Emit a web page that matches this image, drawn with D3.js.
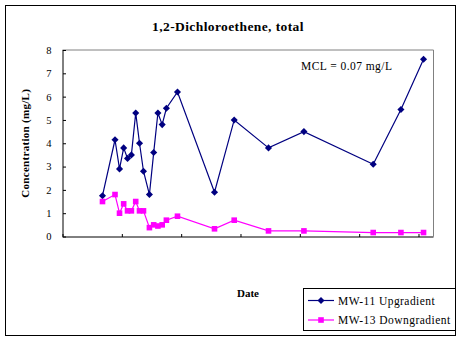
<!DOCTYPE html>
<html><head><meta charset="utf-8">
<script src="https://cdn.jsdelivr.net/npm/d3@7"></script>
<style>body{margin:0;background:#fff}svg{display:block}</style>
</head><body>
<svg id="c" width="462" height="341"></svg>
<script>
// Sample times, in years from the start of the date axis
const sampleYears = [0.674,0.885,0.961,1.031,1.096,1.161,1.234,1.298,1.365,1.465,1.537,1.608,1.680,1.751,1.938,2.562,2.894,3.472,4.069,5.237,5.704,6.085];
const mw11 = [1.75,4.15,2.9,3.8,3.35,3.5,5.3,4.0,2.8,1.8,3.6,5.3,4.8,5.5,6.2,1.9,5.0,3.8,4.5,3.1,5.45,7.6];
const mw13 = [1.5,1.8,1.0,1.4,1.1,1.1,1.5,1.1,1.1,0.38,0.5,0.45,0.5,0.7,0.87,0.33,0.7,0.24,0.24,0.17,0.17,0.17];
const yTicks = [0,1,2,3,4,5,6,7,8];
const xTicks = [0,1,2,3,4,5,6];
const seriesNames = ["MW-11 Upgradient","MW-13 Downgradient"];
const seriesColors = ["#000080","#FF00FF"];
const title = "1,2-Dichloroethene, total";
const yTitle = "Concentration (mg/L)";
const xTitle = "Date";
const note = "MCL = 0.07 mg/L";

const svg = d3.select("#c");
const serif = "'Liberation Serif','Times New Roman',serif";
const L = 62.5, R = 433.5, T = 50, B = 236.5;
const x = d3.scaleLinear().domain([0,6.253]).range([L,R]);
const y = d3.scaleLinear().domain([0,8]).range([B,T]);

// outer frame
svg.append("rect").attr("x",5.5).attr("y",5.5).attr("width",450).attr("height",330)
  .attr("fill","#fff").attr("stroke","#000").attr("stroke-width",1);

// plot area border (gray top/right)
svg.append("path").attr("d",`M${L},${T}H${R}V${B}`).attr("fill","none").attr("stroke","#808080").attr("stroke-width",1);

// y axis
const yAxis = svg.append("g").attr("transform",`translate(${L},0)`)
  .call(d3.axisRight(y).tickValues(yTicks).tickSize(3).tickFormat(d3.format("d")));
yAxis.select(".domain").attr("stroke","#000").attr("d",`M0.5,${T}V${B}`);
yAxis.selectAll(".tick line").attr("stroke","#000").attr("x1",0.5).attr("x2",3.5);
yAxis.selectAll(".tick text").attr("x",-11).attr("text-anchor","end")
  .attr("font-family",serif).attr("font-size","10.5px").attr("fill","#000");

// x axis
const xAxis = svg.append("g").attr("transform",`translate(0,${B})`)
  .call(d3.axisTop(x).tickValues(xTicks).tickSize(3).tickFormat(""));
xAxis.select(".domain").attr("stroke","#000").attr("d",`M${L},0.5H${R}`);
xAxis.selectAll(".tick line").attr("stroke","#000").attr("y1",0.5).attr("y2",-2.5);

// series
const data = [mw11, mw13];
data.forEach((vals,i)=>{
  const pts = vals.map((v,j)=>[sampleYears[j],v]);
  svg.append("path").datum(pts)
    .attr("d",d3.line().x(d=>x(d[0])).y(d=>y(d[1])))
    .attr("fill","none").attr("stroke",seriesColors[i]).attr("stroke-width",1.2);
  const sym = i===0 ? d3.symbol().type(d3.symbolDiamond2).size(32) : d3.symbol().type(d3.symbolSquare2).size(40);
  svg.append("g").selectAll("path").data(pts).join("path")
    .attr("transform",d=>`translate(${x(d[0])},${y(d[1])})`)
    .attr("d",sym).attr("fill",seriesColors[i]);
});

// texts
svg.append("text").attr("x",228).attr("y",31).attr("text-anchor","middle")
  .attr("font-family",serif).attr("font-weight","bold").attr("font-size","13.5px")
  .attr("letter-spacing","0.4px").text(title);
svg.append("text").attr("transform",`translate(29,${(T+B)/2}) rotate(-90)`).attr("text-anchor","middle")
  .attr("font-family",serif).attr("font-weight","bold").attr("font-size","11px")
  .attr("letter-spacing","0.3px").text(yTitle);
svg.append("text").attr("x",(L+R)/2).attr("y",297).attr("text-anchor","middle")
  .attr("font-family",serif).attr("font-weight","bold").attr("font-size","11px").text(xTitle);
svg.append("text").attr("x",301).attr("y",70)
  .attr("font-family",serif).attr("font-size","11.5px").attr("letter-spacing","0.45px").text(note);

// legend
const lg = svg.append("g");
lg.append("rect").attr("x",303.5).attr("y",288.5).attr("width",152).attr("height",42)
  .attr("fill","#fff").attr("stroke","#000");
seriesNames.forEach((n,i)=>{
  const yy = 300.5 + i*19.5;
  lg.append("line").attr("x1",308).attr("x2",334).attr("y1",yy).attr("y2",yy)
    .attr("stroke",seriesColors[i]).attr("stroke-width",1.2);
  const sym = i===0 ? d3.symbol().type(d3.symbolDiamond2).size(32) : d3.symbol().type(d3.symbolSquare2).size(40);
  lg.append("path").attr("transform",`translate(321,${yy})`).attr("d",sym).attr("fill",seriesColors[i]);
  lg.append("text").attr("x",338).attr("y",yy+4).attr("font-family",serif).attr("font-size","11.5px")
    .attr("letter-spacing","0.45px").text(n);
});
</script>
</body></html>
